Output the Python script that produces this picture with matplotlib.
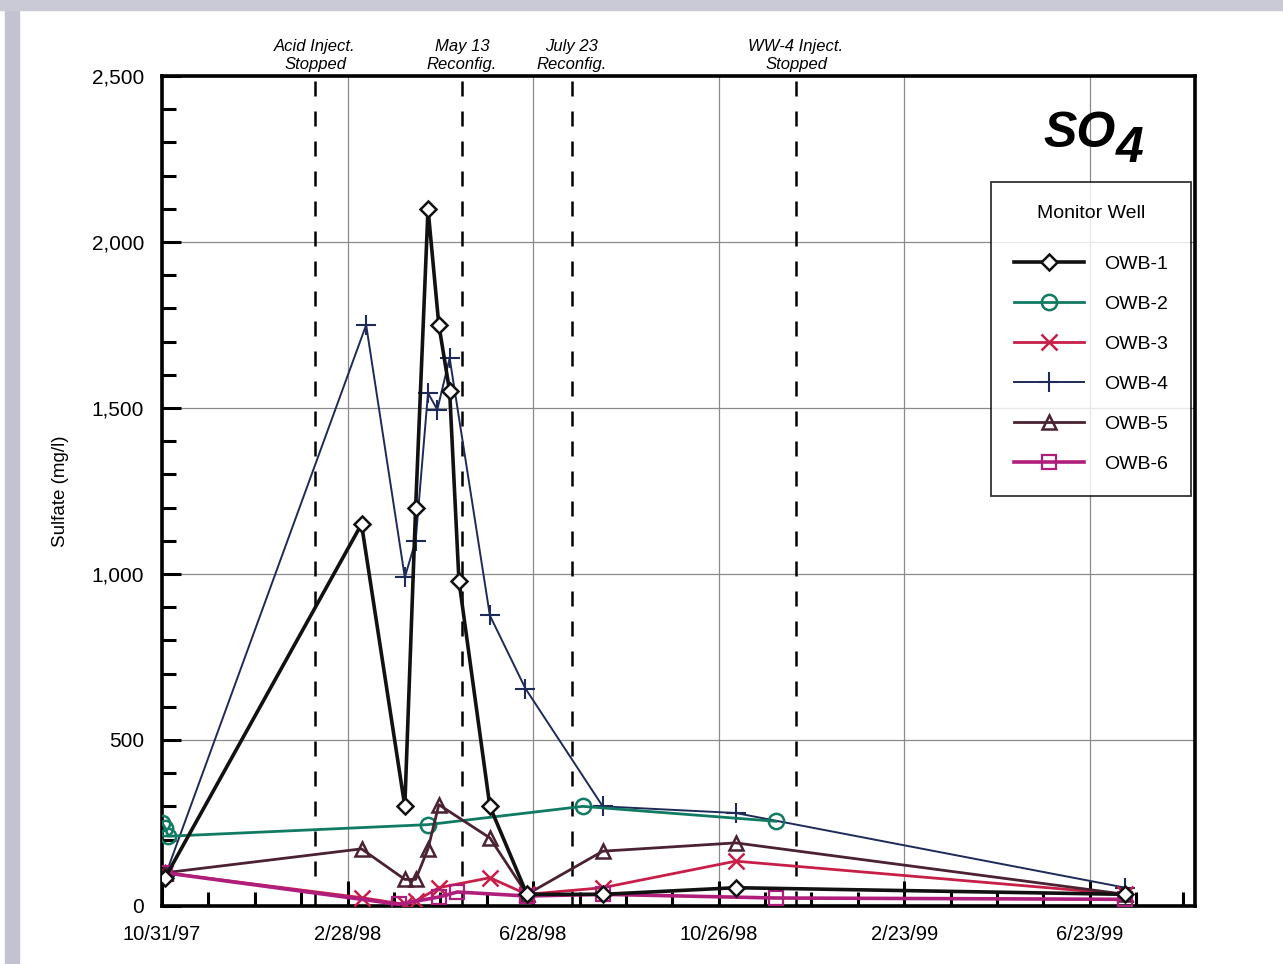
import matplotlib
matplotlib.use("Agg")
import matplotlib.pyplot as plt
import pandas as pd
from matplotlib.patches import Rectangle

plt.rcParams['font.family'] = ['Liberation Sans', 'DejaVu Sans']

# ---------------- data ----------------
owb1_dates = ["1997-11-02", "1998-03-09", "1998-04-06", "1998-04-13", "1998-04-21", "1998-04-28",
              "1998-05-05", "1998-05-11", "1998-05-31", "1998-06-24", "1998-08-12", "1998-11-06", "1999-07-16"]
owb1_vals = [85, 1150, 300, 1200, 2100, 1750, 1550, 980, 300, 35, 35, 55, 35]

owb2_dates = ["1997-10-31", "1997-11-02", "1997-11-04", "1998-04-21", "1998-07-30", "1998-12-02"]
owb2_vals = [250, 235, 210, 245, 300, 255]

owb3_dates = ["1997-11-02", "1998-03-09", "1998-04-06", "1998-04-13", "1998-04-28", "1998-05-31",
              "1998-06-24", "1998-08-12", "1998-11-06", "1999-07-16"]
owb3_vals = [100, 25, 5, 15, 55, 85, 35, 55, 135, 35]

owb4_dates = ["1997-11-02", "1998-03-12", "1998-04-06", "1998-04-13", "1998-04-21", "1998-04-27",
              "1998-05-05", "1998-05-31", "1998-06-23", "1998-08-12", "1998-11-06", "1999-07-16"]
owb4_vals = [90, 1750, 990, 1100, 1545, 1495, 1650, 875, 655, 300, 280, 55]

owb5_dates = ["1997-11-02", "1998-03-09", "1998-04-06", "1998-04-13", "1998-04-21", "1998-04-28",
              "1998-05-31", "1998-06-24", "1998-08-12", "1998-11-06", "1999-07-16"]
owb5_vals = [100, 172, 80, 80, 172, 305, 205, 35, 165, 190, 35]

owb6_dates = ["1997-11-02", "1998-04-02", "1998-04-28", "1998-05-10", "1998-06-24", "1998-08-12",
              "1998-12-02", "1999-07-16"]
owb6_vals = [100, 5, 27, 42, 30, 35, 24, 20]

event_dates = ["1998-02-07", "1998-05-13", "1998-07-23", "1998-12-15"]
event_labels = ["Acid Inject.\nStopped", "May 13\nReconfig.", "July 23\nReconfig.", "WW-4 Inject.\nStopped"]

xtick_dates = ["1997-10-31", "1998-02-28", "1998-06-28", "1998-10-26", "1999-02-23", "1999-06-23"]
xtick_labels = ["10/31/97", "2/28/98", "6/28/98", "10/26/98", "2/23/99", "6/23/99"]
yticks = [0, 500, 1000, 1500, 2000, 2500]
ytick_labels = ["0", "500", "1,000", "1,500", "2,000", "2,500"]

# ---------------- figure ----------------
fig = plt.figure(figsize=(12.83, 9.64), dpi=100)
fig.patch.set_facecolor('white')
# scan border
fig.patches.append(Rectangle((0.004, 0), 0.011, 1, transform=fig.transFigure, color='#c2c2d0', zorder=0))
fig.patches.append(Rectangle((0, 0.99), 1, 0.010, transform=fig.transFigure, color='#cacad6', zorder=0))

ax = fig.add_axes([0.1263, 0.0602, 0.8051, 0.8610])

series = [
    ("OWB-1", owb1_dates, owb1_vals, dict(color='#111111', lw=2.6, marker='D', ms=8, mfc='white', mew=1.8, zorder=6)),
    ("OWB-2", owb2_dates, owb2_vals, dict(color='#117a62', lw=2.0, marker='o', ms=11, mfc='none', mew=1.8, zorder=5)),
    ("OWB-3", owb3_dates, owb3_vals, dict(color='#c81f48', lw=2.0, marker='x', ms=12, mew=1.8, zorder=5)),
    ("OWB-4", owb4_dates, owb4_vals, dict(color='#1e2a58', lw=1.4, marker='+', ms=14, mew=1.5, zorder=4)),
    ("OWB-5", owb5_dates, owb5_vals, dict(color='#4b2233', lw=2.0, marker='^', ms=10, mfc='none', mew=1.8, zorder=5)),
    ("OWB-6", owb6_dates, owb6_vals, dict(color='#b01e7c', lw=2.6, marker='s', ms=10, mfc='none', mew=1.6, zorder=5)),
]
for name, d, v, kw in series:
    ax.plot(pd.to_datetime(d), v, label=name, **kw)

x0 = pd.Timestamp("1997-10-31")
ax.set_xlim(x0, x0 + pd.Timedelta(days=668))
ax.set_ylim(0, 2500)

for d, lab in zip(event_dates, event_labels):
    t = pd.Timestamp(d)
    ax.axvline(t, color='black', lw=1.8, ls=(0, (6, 6)), zorder=3)
    ax.text(t, 1.005, lab, transform=ax.get_xaxis_transform(), ha='center', va='bottom',
            fontsize=12, style='italic', linespacing=1.2)

ax.set_xticks(pd.to_datetime(xtick_dates))
ax.set_xticklabels(xtick_labels, fontsize=14.5)
minor = pd.date_range(x0, x0 + pd.Timedelta(days=668), freq='30D')
ax.set_xticks(minor, minor=True)
ax.set_yticks(yticks)
ax.set_yticklabels(ytick_labels, fontsize=15)
ax.set_yticks(range(0, 2501, 100), minor=True)

ax.tick_params(axis='both', which='major', direction='in', length=14, width=2.2, color='black')
ax.tick_params(axis='x', which='major', length=18, pad=14)
ax.tick_params(axis='both', which='minor', direction='in', length=10, width=2.2, color='black')
ax.tick_params(axis='y', which='major', pad=13)

ax.grid(True, which='major', color='#8a8a8a', lw=0.9, zorder=1)
for s in ax.spines.values():
    s.set_linewidth(2.6)
    s.set_color('black')

ax.set_ylabel("Sulfate (mg/l)", fontsize=13.5, labelpad=16)

# title SO4
ax.text(0.853, 0.930, "SO", transform=ax.transAxes, fontsize=36, fontweight='bold',
        style='italic', ha='left', va='center')
ax.text(0.923, 0.912, "4", transform=ax.transAxes, fontsize=36, fontweight='bold',
        style='italic', ha='left', va='center')

leg = ax.legend(loc='upper left', bbox_to_anchor=(0.8025, 0.8724), title="Monitor Well",
                fontsize=14, title_fontsize=14, frameon=True, fancybox=False,
                handlelength=3.6, labelspacing=1.15, borderpad=1.2, handletextpad=1.0,
                borderaxespad=0)
leg.get_frame().set_edgecolor('black')
leg.get_frame().set_linewidth(1.3)
leg._legend_box.align = "center"
leg._legend_box.sep = 24
leg.set_zorder(10)

fig.savefig("out.png", dpi=100)
